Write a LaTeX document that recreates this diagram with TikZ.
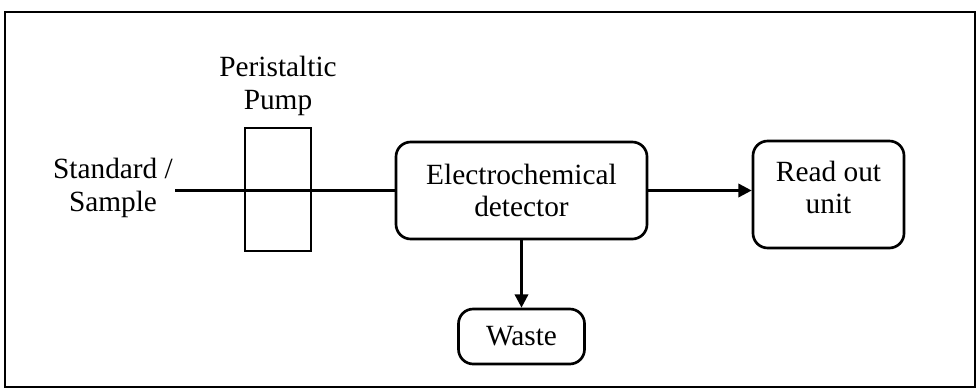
\documentclass[tikz,border=0pt]{standalone}
\usepackage{fontspec}
\setmainfont{Liberation Serif}
\usetikzlibrary{arrows.meta}
\begin{document}
\begin{tikzpicture}[x=0.75pt,y=-0.75pt,line width=2pt,
  txt/.style={align=center,inner sep=0pt,font=\fontsize{22}{24.5}\selectfont},
  rbox/.style={draw,rounded corners=11pt,inner sep=0pt,align=center,font=\fontsize{22}{24.5}\selectfont},
  sbox/.style={draw,inner sep=0pt},
  arr/.style={-{Triangle[length=10pt,width=10pt]}}]
\useasboundingbox (0,0) rectangle (980,392);
\draw (5,12) rectangle (975,387);
% nodes
\node[txt] (src) at (113,188) {Standard /\\Sample};
\node[txt] (pumplbl) at (278,86) {Peristaltic\\Pump};
\node[sbox,minimum width=49.5pt,minimum height=92.25pt] (pump) at (278,189.5) {};
\node[rbox,minimum width=188.25pt,minimum height=72.75pt] (det) at (521.5,190.5) {Electrochemical\\detector};
\node[rbox,minimum width=113.25pt,minimum height=80.25pt] (ro) at (828.5,194.5) {};
\node[txt] (rotxt) at (828.5,187.5) {Read out\\unit};
\node[rbox,minimum width=94.5pt,minimum height=41.25pt] (waste) at (521.5,336.5) {Waste};
\coordinate (in) at (175,190.5);
% connectors
\draw (in) -- (in -| det.west);
\draw[arr] (det.east) -- (det.east -| ro.west);
\draw[arr] (det.south) -- (waste.north);
\end{tikzpicture}
\end{document}
